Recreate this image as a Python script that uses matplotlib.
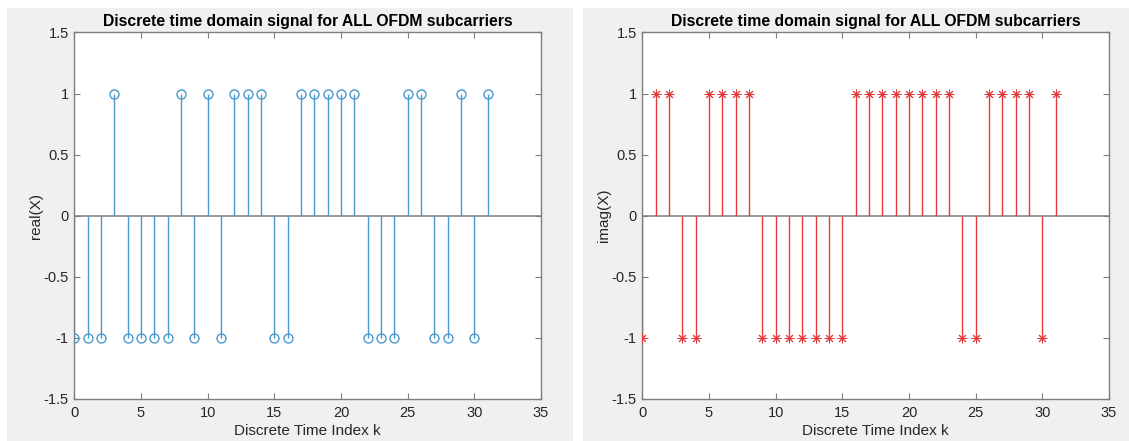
"""
Stem plots of the discrete time-domain OFDM signal: real part on the
left, imaginary part on the right, for all 32 subcarriers.
"""

import matplotlib.pyplot as plt
from matplotlib.patches import Rectangle

plt.rcParams["font.family"] = ["Liberation Sans", "DejaVu Sans"]

K = list(range(32))
REAL_X = [-1, -1, -1, 1, -1, -1, -1, -1, 1, -1, 1, -1, 1, 1, 1, -1,
          -1, 1, 1, 1, 1, 1, -1, -1, -1, 1, 1, -1, -1, 1, -1, 1]
IMAG_X = [-1, 1, 1, -1, -1, 1, 1, 1, 1, -1, -1, -1, -1, -1, -1, -1,
          1, 1, 1, 1, 1, 1, 1, 1, -1, -1, 1, 1, 1, 1, -1, 1]

TITLE = "Discrete time domain signal for ALL OFDM subcarriers"
XLABEL = "Discrete Time Index k"

FIG_W, FIG_H = 1129, 441
PANEL_BG = "#f0f0f0"
AX_GREY = "#7f7f7f"
BLUE = "#4a98cc"
RED = "#e23a3a"


def draw_panel(fig, ax_rect, panel_rect, k, vals, color, marker, ylabel):
    px, py, pw, ph = panel_rect
    fig.add_artist(Rectangle((px / FIG_W, 1 - (py + ph) / FIG_H),
                             pw / FIG_W, ph / FIG_H,
                             transform=fig.transFigure,
                             facecolor=PANEL_BG, edgecolor="none",
                             zorder=-10))
    ax = fig.add_axes(ax_rect)
    ax.set_facecolor("white")

    ax.axhline(0, color=AX_GREY, linewidth=1.1, zorder=1)
    ax.vlines(k, 0, vals, color=color, linewidth=1.0, zorder=2)
    if marker == "o":
        ax.plot(k, vals, linestyle="none", marker="o", markersize=6.5,
                markerfacecolor="none", markeredgecolor=color,
                markeredgewidth=1.0, zorder=3)
    else:
        # MATLAB-style asterisk: eight thin spokes
        ax.plot(k, vals, linestyle="none", marker=(8, 2, 0),
                markersize=7, markeredgecolor=color,
                markeredgewidth=0.7, zorder=3)

    ax.set_xlim(0, 35)
    ax.set_ylim(-1.5, 1.5)
    ax.set_xticks([0, 5, 10, 15, 20, 25, 30, 35])
    ax.set_yticks([-1.5, -1, -0.5, 0, 0.5, 1, 1.5])
    ax.set_yticklabels(["-1.5", "-1", "-0.5", "0", "0.5", "1", "1.5"])
    ax.tick_params(direction="in", length=4, width=0.8, color=AX_GREY,
                   labelsize=10.5, labelcolor="#262626",
                   top=True, right=True)
    ax.tick_params(axis="x", pad=5)
    ax.tick_params(axis="y", pad=4)
    for sp in ax.spines.values():
        sp.set_color(AX_GREY)
        sp.set_linewidth(1.0)

    ax.set_title(TITLE, fontsize=11.3, fontweight="bold", color="black",
                 pad=5)
    ax.set_xlabel(XLABEL, fontsize=11, color="#262626", labelpad=3)
    ax.set_ylabel(ylabel, fontsize=11, color="#262626", labelpad=0)
    return ax


def main():
    fig = plt.figure(figsize=(FIG_W / 100, FIG_H / 100), dpi=100)
    fig.patch.set_facecolor("white")

    ax_h = 366.3 / FIG_H
    ax_w = 466.7 / FIG_W
    ax_b = (FIG_H - 398.8) / FIG_H

    draw_panel(fig, [74.3 / FIG_W, ax_b, ax_w, ax_h],
               (7, 8, 566, 433), K, REAL_X, BLUE, "o", "real(X)")
    draw_panel(fig, [642.3 / FIG_W, ax_b, ax_w, ax_h],
               (583, 8, 546, 433), K, IMAG_X, RED, "*", "imag(X)")

    fig.savefig("out.png", dpi=100, facecolor=fig.get_facecolor())
    plt.close(fig)


if __name__ == "__main__":
    main()
